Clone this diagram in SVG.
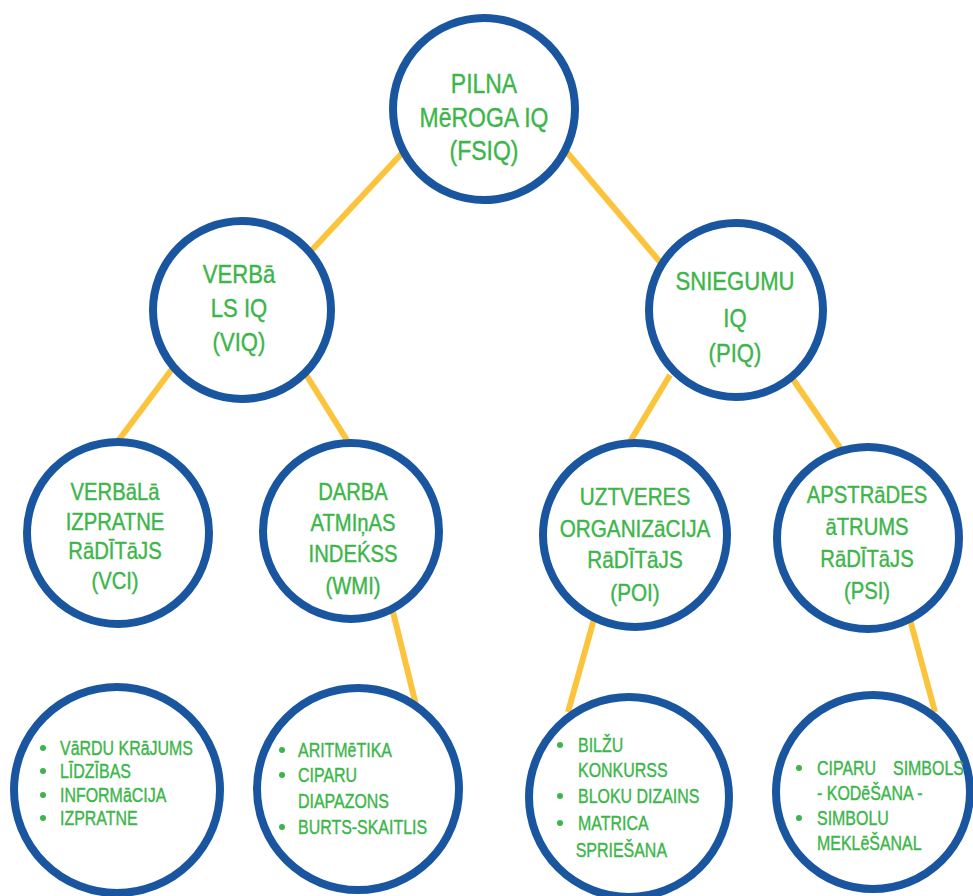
<svg xmlns="http://www.w3.org/2000/svg" width="973" height="896" viewBox="0 0 973 896">
<style>
.node{fill:#ffffff;stroke:#1a56a0;stroke-width:8}
.edge{stroke:#fcc43d;stroke-width:6;stroke-linecap:butt;fill:none}
.t{font-family:"Liberation Sans",Arial,sans-serif;fill:#3db54a;stroke:#3db54a;stroke-width:0.4;text-anchor:middle}
.l{font-family:"Liberation Sans",Arial,sans-serif;fill:#3db54a;stroke:#3db54a;stroke-width:0.4;font-size:21px}
.b{fill:#3db54a}
.s1{font-size:28px}
.s2{font-size:26px}
.s3{font-size:23px}
</style>
<rect width="973" height="896" fill="#ffffff"/>
<g id="connectors">
<line class="edge" x1="405" y1="150" x2="312" y2="250"/>
<line class="edge" x1="565" y1="150" x2="660" y2="262"/>
<line class="edge" x1="175" y1="365" x2="115" y2="445"/>
<line class="edge" x1="300" y1="365" x2="350" y2="445"/>
<line class="edge" x1="670" y1="375" x2="625" y2="450"/>
<line class="edge" x1="790" y1="375" x2="845" y2="455"/>
<line class="edge" x1="393" y1="612" x2="416" y2="705"/>
<line class="edge" x1="596" y1="612" x2="568" y2="712"/>
<line class="edge" x1="908" y1="612" x2="935" y2="712"/>
</g>
<g id="fsiq">
<circle class="node" cx="484" cy="109" r="91"/>
<g transform="translate(484 0) scale(0.82 1)">
<text class="t s1" x="0" y="93">PILNA</text>
<text class="t s1" x="0" y="127">MēROGA IQ</text>
<text class="t s1" x="0" y="160">(FSIQ)</text>
</g>
</g>
<g id="viq">
<circle class="node" cx="242" cy="310" r="89"/>
<g transform="translate(239 0) scale(0.85 1)">
<text class="t s2" x="0" y="283">VERBā</text>
<text class="t s2" x="0" y="317">LS IQ</text>
<text class="t s2" x="0" y="351">(VIQ)</text>
</g>
</g>
<g id="piq">
<circle class="node" cx="736" cy="310" r="87"/>
<g transform="translate(735 0) scale(0.85 1)">
<text class="t s2" x="0" y="290">SNIEGUMU</text>
<text class="t s2" x="0" y="327">IQ</text>
<text class="t s2" x="0" y="362">(PIQ)</text>
</g>
</g>
<g id="vci">
<circle class="node" cx="118" cy="533" r="91"/>
<g transform="translate(115 0) scale(0.88 1)">
<text class="t s3" x="0" y="500">VERBāLā</text>
<text class="t s3" x="0" y="530">IZPRATNE</text>
<text class="t s3" x="0" y="559">RāDĪTāJS</text>
<text class="t s3" x="0" y="589">(VCI)</text>
</g>
</g>
<g id="wmi">
<circle class="node" cx="351" cy="531" r="88"/>
<g transform="translate(353 0) scale(0.88 1)">
<text class="t s3" x="0" y="500">DARBA</text>
<text class="t s3" x="0" y="531">ATMIņAS</text>
<text class="t s3" x="0" y="562">INDEḰSS</text>
<text class="t s3" x="0" y="594">(WMI)</text>
</g>
</g>
<g id="poi">
<circle class="node" cx="635" cy="535" r="92"/>
<g transform="translate(635 0) scale(0.9 1)">
<text class="t s3" x="0" y="505">UZTVERES</text>
<text class="t s3" x="0" y="537">ORGANIZāCIJA</text>
<text class="t s3" x="0" y="568">RāDĪTāJS</text>
<text class="t s3" x="0" y="601">(POI)</text>
</g>
</g>
<g id="psi">
<circle class="node" cx="868" cy="538" r="91"/>
<g transform="translate(867 0) scale(0.88 1)">
<text class="t s3" x="0" y="503">APSTRāDES</text>
<text class="t s3" x="0" y="535">āTRUMS</text>
<text class="t s3" x="0" y="567">RāDĪTāJS</text>
<text class="t s3" x="0" y="599">(PSI)</text>
</g>
</g>
<g id="vci-tests">
<circle class="node" cx="117" cy="790" r="103"/>
<circle class="b" cx="43" cy="748" r="3"/>
<circle class="b" cx="43" cy="771" r="3"/>
<circle class="b" cx="43" cy="795" r="3"/>
<circle class="b" cx="43" cy="818" r="3"/>
<g transform="translate(60 0) scale(0.76 1)">
<text class="l" x="0" y="755">VāRDU KRāJUMS</text>
<text class="l" x="0" y="778">LĪDZĪBAS</text>
<text class="l" x="0" y="802">INFORMāCIJA</text>
<text class="l" x="0" y="825">IZPRATNE</text>
</g>
</g>
<g id="wmi-tests">
<circle class="node" cx="358" cy="789" r="101"/>
<circle class="b" cx="282" cy="750" r="3"/>
<circle class="b" cx="282" cy="775" r="3"/>
<circle class="b" cx="282" cy="827" r="3"/>
<g transform="translate(298 0) scale(0.76 1)">
<text class="l" x="0" y="757">ARITMēTIKA</text>
<text class="l" x="0" y="782">CIPARU</text>
<text class="l" x="0" y="808">DIAPAZONS</text>
<text class="l" x="0" y="834">BURTS-SKAITLIS</text>
</g>
</g>
<g id="poi-tests">
<circle class="node" cx="629" cy="797" r="100"/>
<circle class="b" cx="560" cy="745" r="3"/>
<circle class="b" cx="560" cy="796" r="3"/>
<circle class="b" cx="560" cy="823" r="3"/>
<g transform="translate(578 0) scale(0.76 1)">
<text class="l" x="0" y="752">BILŽU</text>
<text class="l" x="0" y="777">KONKURSS</text>
<text class="l" x="0" y="803">BLOKU DIZAINS</text>
<text class="l" x="0" y="830">MATRICA</text>
<text class="l" x="-3" y="857">SPRIEŠANA</text>
</g>
</g>
<g id="psi-tests">
<circle class="node" cx="873" cy="792" r="97"/>
<circle class="b" cx="799" cy="768" r="3"/>
<circle class="b" cx="799" cy="818" r="3"/>
<g transform="translate(817 0) scale(0.76 1)">
<text class="l" x="0" y="775">CIPARU<tspan x="100">SIMBOLS</tspan></text>
<text class="l" x="0" y="800">- KODēŠANA -</text>
<text class="l" x="0" y="825">SIMBOLU</text>
<text class="l" x="0" y="850">MEKLēŠANAL</text>
</g>
</g>
</svg>
